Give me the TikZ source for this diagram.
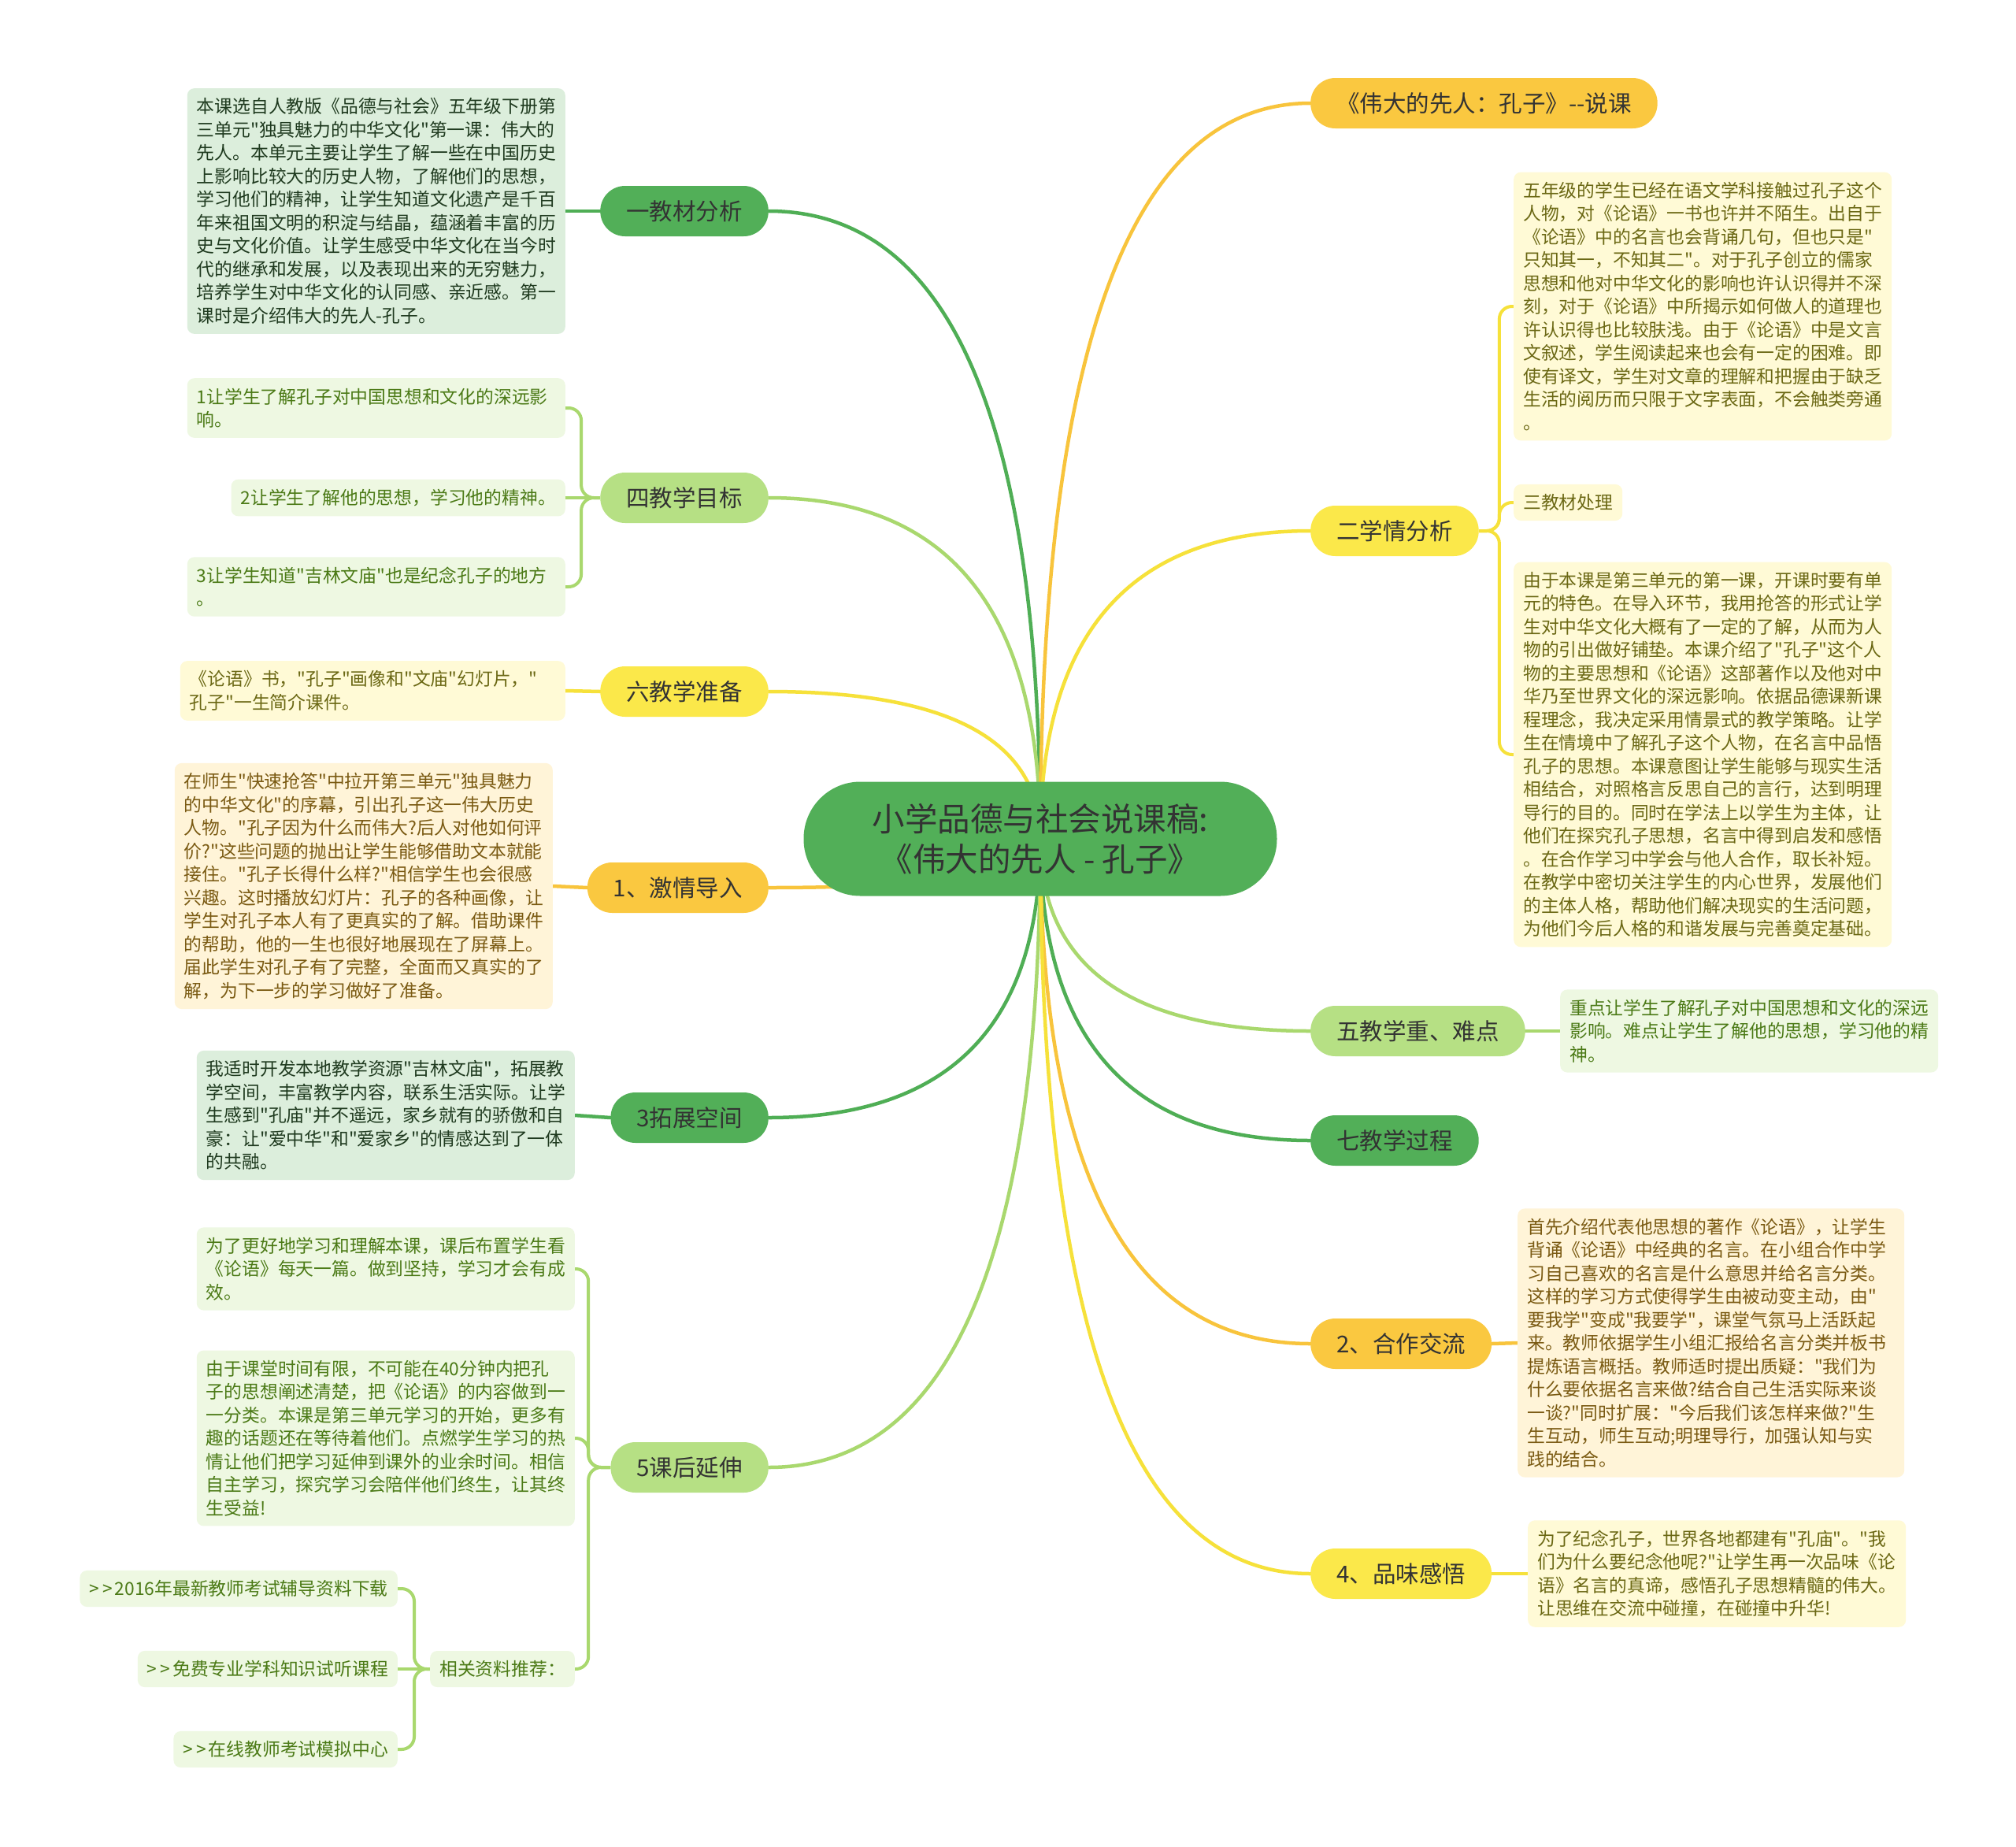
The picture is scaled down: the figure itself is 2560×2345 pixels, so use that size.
\documentclass[tikz,border=0pt]{standalone}
\usepackage{fontspec}
\newfontfamily\cjk{Noto Sans CJK SC}
\usetikzlibrary{calc,backgrounds}
\pgfdeclarelayer{edges}
\pgfsetlayers{background,edges,main}
\definecolor{cG}{HTML}{4FAE55}
\definecolor{cLG}{HTML}{A9D86E}
\definecolor{cY}{HTML}{F6E13A}
\definecolor{cO}{HTML}{F8C43C}
\definecolor{pG}{HTML}{52AF58}
\definecolor{pLG}{HTML}{B6E084}
\definecolor{pY}{HTML}{FBE84A}
\definecolor{pO}{HTML}{FAC840}
\definecolor{bG}{HTML}{DCEEDC}
\definecolor{bLG}{HTML}{EEF8E2}
\definecolor{bY}{HTML}{FFFAD6}
\definecolor{bO}{HTML}{FFF4D8}
\definecolor{tG}{HTML}{1F3A1F}
\definecolor{tLG}{HTML}{4B7A16}
\definecolor{tY}{HTML}{6B6814}
\definecolor{tO}{HTML}{7A5A12}
\definecolor{tP}{HTML}{333333}
\newcommand\myfs[2]{\cjk\fontsize{#1}{#2}\selectfont}
\newcommand\mmlink[3]{\draw[conn,#1] (#2) .. controls ($(#2)!0.667!(#2|-#3)$) and ($(#3)!0.667!(#2|-#3)$) .. (#3);}
\newcommand\gtgt{>\kern4pt>\kern3pt}
\tikzset{
  pill/.style={rounded corners=31.5pt, minimum height=64pt, inner xsep=33pt, inner ysep=0pt, font=\myfs{29.5pt}{34pt}, text=tP},
  pillG/.style={pill, fill=pG},
  pillLG/.style={pill, fill=pLG},
  pillY/.style={pill, fill=pY},
  pillO/.style={pill, fill=pO},
  tbox/.style={rounded corners=9pt, inner xsep=12pt, inner ysep=12.5pt, align=left, font=\myfs{22.8pt}{29.5pt}},
  wide/.style={text width=456pt},
  boxG/.style={tbox, fill=bG, text=tG},
  boxLG/.style={tbox, fill=bLG, text=tLG},
  boxY/.style={tbox, fill=bY, text=tY},
  boxO/.style={tbox, fill=bO, text=tO},
  conn/.style={line width=4.5pt, line cap=round},
  brace/.style={line width=4pt, rounded corners=16pt},
}
\begin{document}
\begin{tikzpicture}[x=1pt,y=-1pt]
\begin{scope}[on background layer]
\fill[white] (0,0) rectangle (2560,2345);
\end{scope}
\useasboundingbox (0,0) rectangle (2560,2345);

% center
\node[fill=pG, rounded corners=72pt, minimum width=601pt, minimum height=145pt, align=center, font=\myfs{41.5pt}{51pt}, text=tP] (C) at (1321,1065) {小学品德与社会说课稿:\\《伟大的先人 - 孔子》};

% left pills
\node[pillG, anchor=east] (A) at (976,268) {一教材分析};
\node[pillLG, anchor=east] (B) at (976,632) {四教学目标};
\node[pillY, anchor=east] (D) at (976,878) {六教学准备};
\node[pillO, anchor=east] (E) at (976,1127) {1、激情导入};
\node[pillG, anchor=east] (F) at (976,1419) {3拓展空间};
\node[pillLG, anchor=east] (H) at (976,1863) {5课后延伸};

% right pills
\node[pillO, anchor=west] (R1) at (1664,131) {《伟大的先人：孔子》--说课};
\node[pillY, anchor=west] (R2) at (1664,674) {二学情分析};
\node[pillLG, anchor=west] (R3) at (1664,1309) {五教学重、难点};
\node[pillG, anchor=west] (R4) at (1664,1448) {七教学过程};
\node[pillO, anchor=west] (R5) at (1664,1706) {2、合作交流};
\node[pillY, anchor=west] (R6) at (1664,1998) {4、品味感悟};

% left boxes
\node[boxG, wide, anchor=east] (Ab) at (718,268) {本课选自人教版《品德与社会》五年级下册第\\三单元"独具魅力的中华文化"第一课：伟大的\\先人。本单元主要让学生了解一些在中国历史\\上影响比较大的历史人物，了解他们的思想，\\学习他们的精神，让学生知道文化遗产是千百\\年来祖国文明的积淀与结晶，蕴涵着丰富的历\\史与文化价值。让学生感受中华文化在当今时\\代的继承和发展，以及表现出来的无穷魅力，\\培养学生对中华文化的认同感、亲近感。第一\\课时是介绍伟大的先人-孔子。};
\node[boxLG, wide, anchor=east] (B1) at (718,518) {1让学生了解孔子对中国思想和文化的深远影\\响。};
\node[boxLG, anchor=east] (B2) at (718,632) {2让学生了解他的思想，学习他的精神。};
\node[boxLG, wide, anchor=east] (B3) at (718,745) {3让学生知道"吉林文庙"也是纪念孔子的地方\\。};
\node[boxY, text width=465pt, anchor=east] (Db) at (718,877) {《论语》书，"孔子"画像和"文庙"幻灯片，"\\孔子"一生简介课件。};
\node[boxO, wide, anchor=east] (Eb) at (702,1125) {在师生"快速抢答"中拉开第三单元"独具魅力\\的中华文化"的序幕，引出孔子这一伟大历史\\人物。"孔子因为什么而伟大?后人对他如何评\\价?"这些问题的抛出让学生能够借助文本就能\\接住。"孔子长得什么样?"相信学生也会很感\\兴趣。这时播放幻灯片：孔子的各种画像，让\\学生对孔子本人有了更真实的了解。借助课件\\的帮助，他的一生也很好地展现在了屏幕上。\\届此学生对孔子有了完整，全面而又真实的了\\解，为下一步的学习做好了准备。};
\node[boxG, wide, anchor=east] (Fb) at (730,1416) {我适时开发本地教学资源"吉林文庙"，拓展教\\学空间，丰富教学内容，联系生活实际。让学\\生感到"孔庙"并不遥远，家乡就有的骄傲和自\\豪：让"爱中华"和"爱家乡"的情感达到了一体\\的共融。};
\node[boxLG, wide, anchor=east] (H1) at (730,1611) {为了更好地学习和理解本课，课后布置学生看\\《论语》每天一篇。做到坚持，学习才会有成\\效。};
\node[boxLG, wide, anchor=east] (H2) at (730,1826) {由于课堂时间有限，不可能在40分钟内把孔\\子的思想阐述清楚，把《论语》的内容做到一\\一分类。本课是第三单元学习的开始，更多有\\趣的话题还在等待着他们。点燃学生学习的热\\情让他们把学习延伸到课外的业余时间。相信\\自主学习，探究学习会陪伴他们终生，让其终\\生受益!};
\node[boxLG, anchor=east] (H3) at (730,2119) {相关资料推荐：};
\node[boxLG, anchor=east] (L1) at (505,2017) {\gtgt 2016年最新教师考试辅导资料下载};
\node[boxLG, anchor=east] (L2) at (505,2119) {\gtgt 免费专业学科知识试听课程};
\node[boxLG, anchor=east] (L3) at (505,2221) {\gtgt 在线教师考试模拟中心};

% right boxes
\node[boxY, wide, anchor=west] (R2a) at (1922,389) {五年级的学生已经在语文学科接触过孔子这个\\人物，对《论语》一书也许并不陌生。出自于\\《论语》中的名言也会背诵几句，但也只是"\\只知其一，不知其二"。对于孔子创立的儒家\\思想和他对中华文化的影响也许认识得并不深\\刻，对于《论语》中所揭示如何做人的道理也\\许认识得也比较肤浅。由于《论语》中是文言\\文叙述，学生阅读起来也会有一定的困难。即\\使有译文，学生对文章的理解和把握由于缺乏\\生活的阅历而只限于文字表面，不会触类旁通\\。};
\node[boxY, anchor=west] (R2b) at (1922,638) {三教材处理};
\node[boxY, wide, anchor=west] (R2c) at (1922,958) {由于本课是第三单元的第一课，开课时要有单\\元的特色。在导入环节，我用抢答的形式让学\\生对中华文化大概有了一定的了解，从而为人\\物的引出做好铺垫。本课介绍了"孔子"这个人\\物的主要思想和《论语》这部著作以及他对中\\华乃至世界文化的深远影响。依据品德课新课\\程理念，我决定采用情景式的教学策略。让学\\生在情境中了解孔子这个人物，在名言中品悟\\孔子的思想。本课意图让学生能够与现实生活\\相结合，对照格言反思自己的言行，达到明理\\导行的目的。同时在学法上以学生为主体，让\\他们在探究孔子思想，名言中得到启发和感悟\\。在合作学习中学会与他人合作，取长补短。\\在教学中密切关注学生的内心世界，发展他们\\的主体人格，帮助他们解决现实的生活问题，\\为他们今后人格的和谐发展与完善奠定基础。};
\node[boxLG, wide, anchor=west] (R3b) at (1981,1309) {重点让学生了解孔子对中国思想和文化的深远\\影响。难点让学生了解他的思想，学习他的精\\神。};
\node[boxO, text width=467pt, anchor=west] (R5b) at (1927,1705) {首先介绍代表他思想的著作《论语》，让学生\\背诵《论语》中经典的名言。在小组合作中学\\习自己喜欢的名言是什么意思并给名言分类。\\这样的学习方式使得学生由被动变主动，由"\\要我学"变成"我要学"，课堂气氛马上活跃起\\来。教师依据学生小组汇报给名言分类并板书\\提炼语言概括。教师适时提出质疑："我们为\\什么要依据名言来做?结合自己生活实际来谈\\一谈?"同时扩展："今后我们该怎样来做?"生\\生互动，师生互动;明理导行，加强认知与实\\践的结合。};
\node[boxY, wide, anchor=west] (R6b) at (1940,1998) {为了纪念孔子，世界各地都建有"孔庙"。"我\\们为什么要纪念他呢?"让学生再一次品味《论\\语》名言的真谛，感悟孔子思想精髓的伟大。\\让思维在交流中碰撞，在碰撞中升华!};

\begin{pgfonlayer}{edges}
% main curves
\mmlink{cG}{C.center}{A.east}
\mmlink{cLG}{C.center}{B.east}
\mmlink{cY}{C.center}{D.east}
\mmlink{cO}{C.center}{E.east}
\mmlink{cG}{C.center}{F.east}
\mmlink{cLG}{C.center}{H.east}
\mmlink{cO}{C.center}{R1.west}
\mmlink{cY}{C.center}{R2.west}
\mmlink{cLG}{C.center}{R3.west}
\mmlink{cG}{C.center}{R4.west}
\mmlink{cO}{C.center}{R5.west}
\mmlink{cY}{C.center}{R6.west}
% straight children
\draw[conn,cG] (A.west) -- (Ab.east);
\draw[conn,cY] (D.west) -- (Db.east);
\draw[conn,cO] (E.west) -- (Eb.east);
\draw[conn,cG] (F.west) -- (Fb.east);
\draw[conn,cLG] (R3.east) -- (R3b.west);
\draw[conn,cO] (R5.east) -- (R5b.west);
\draw[conn,cY] (R6.east) -- (R6b.west);
% braces
\draw[brace,cLG] (B.west) -- ++(-24,0) |- (B1.east);
\draw[brace,cLG] (B.west) -- ++(-24,0) |- (B3.east);
\draw[brace,cLG] (B.west) -- (B2.east);
\draw[brace,cLG] (H.west) -- ++(-28,0) |- (H1.east);
\draw[brace,cLG] (H.west) -- ++(-28,0) |- (H2.east);
\draw[brace,cLG] (H.west) -- ++(-28,0) |- (H3.east);
\draw[brace,cLG] (H3.west) -- ++(-20,0) |- (L1.east);
\draw[brace,cLG] (H3.west) -- ++(-20,0) |- (L3.east);
\draw[brace,cLG] (H3.west) -- (L2.east);
\draw[brace,cY] (R2.east) -- ++(26,0) |- (R2a.west);
\draw[brace,cY] (R2.east) -- ++(26,0) |- (R2b.west);
\draw[brace,cY] (R2.east) -- ++(26,0) |- (R2c.west);
\end{pgfonlayer}
\end{tikzpicture}
\end{document}
